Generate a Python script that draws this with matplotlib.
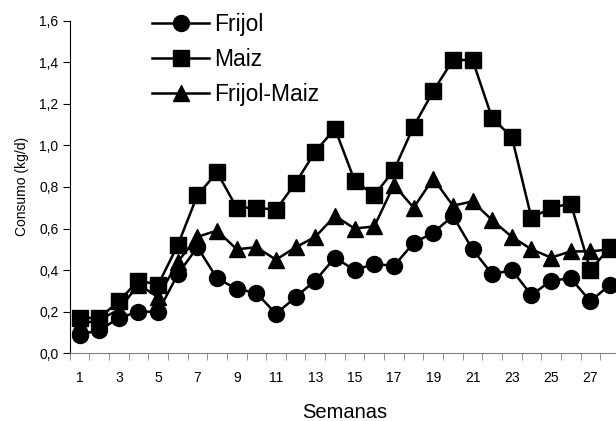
import numpy as np
from matplotlib import pyplot as plt

plt.rcParams['font.family'] = ['Liberation Sans', 'DejaVu Sans']

semanas = np.arange(1, 29)
frijol = [0.09, 0.11, 0.17, 0.20, 0.20, 0.38, 0.51, 0.36, 0.31, 0.29, 0.19, 0.27, 0.35, 0.46,
          0.40, 0.43, 0.42, 0.53, 0.58, 0.66, 0.50, 0.38, 0.40, 0.28, 0.35, 0.36, 0.25, 0.33]
maiz = [0.17, 0.17, 0.25, 0.35, 0.33, 0.52, 0.76, 0.87, 0.70, 0.70, 0.69, 0.82, 0.97, 1.08,
        0.83, 0.76, 0.88, 1.09, 1.26, 1.41, 1.41, 1.13, 1.04, 0.65, 0.70, 0.72, 0.40, 0.51]
frijol_maiz = [0.14, 0.16, 0.21, 0.33, 0.27, 0.44, 0.56, 0.59, 0.50, 0.51, 0.45, 0.51, 0.56, 0.66,
               0.60, 0.61, 0.81, 0.70, 0.84, 0.71, 0.73, 0.64, 0.56, 0.50, 0.46, 0.49, 0.49, 0.50]

W, H = 616, 421
fig = plt.figure(figsize=(W / 100, H / 100), dpi=100)
left, bottom, top = 69.7, 353.3, 20.5
right = left + 28 * 19.65
ax = fig.add_axes([left / W, 1 - bottom / H, (right - left) / W, (bottom - top) / H])

style = dict(color='black', lw=1.8, markersize=11.5, clip_on=False)
ax.plot(semanas, frijol, marker='o', label='Frijol', **style)
ax.plot(semanas, maiz, marker='s', label='Maiz', **style)
ax.plot(semanas, frijol_maiz, marker='^', label='Frijol-Maiz', **style)

ax.set_xlim(0.5, 28.5)
ax.set_ylim(0, 1.6)
ax.set_yticks(np.arange(0, 1.61, 0.2))
ax.set_yticklabels([f'{v:.1f}'.replace('.', ',') for v in np.arange(0, 1.61, 0.2)])
ax.set_xticks(np.arange(1, 29, 2))
ax.set_xticks(np.arange(0.5, 29, 1), minor=True)
ax.tick_params(axis='x', which='major', length=0, labelsize=10, pad=13)
ax.tick_params(axis='x', which='minor', length=5, color='#808080')
ax.tick_params(axis='y', length=5, labelsize=10, pad=3)

for s in ['top', 'right']:
    ax.spines[s].set_visible(False)
ax.spines['bottom'].set_color('#808080')
ax.spines['left'].set_color('black')

ax.set_xlabel('Semanas', fontsize=14.5, labelpad=13)
ax.set_ylabel('Consumo (kg/d)', fontsize=10, labelpad=7)

ax.legend(loc='upper left', bbox_to_anchor=(152 / W, 1 - 13 / H), bbox_transform=fig.transFigure,
          frameon=False, fontsize=16.5, handlelength=2.5, handletextpad=0.2, labelspacing=0.52,
          borderaxespad=0, borderpad=0)

fig.savefig('out.png', dpi=100)
